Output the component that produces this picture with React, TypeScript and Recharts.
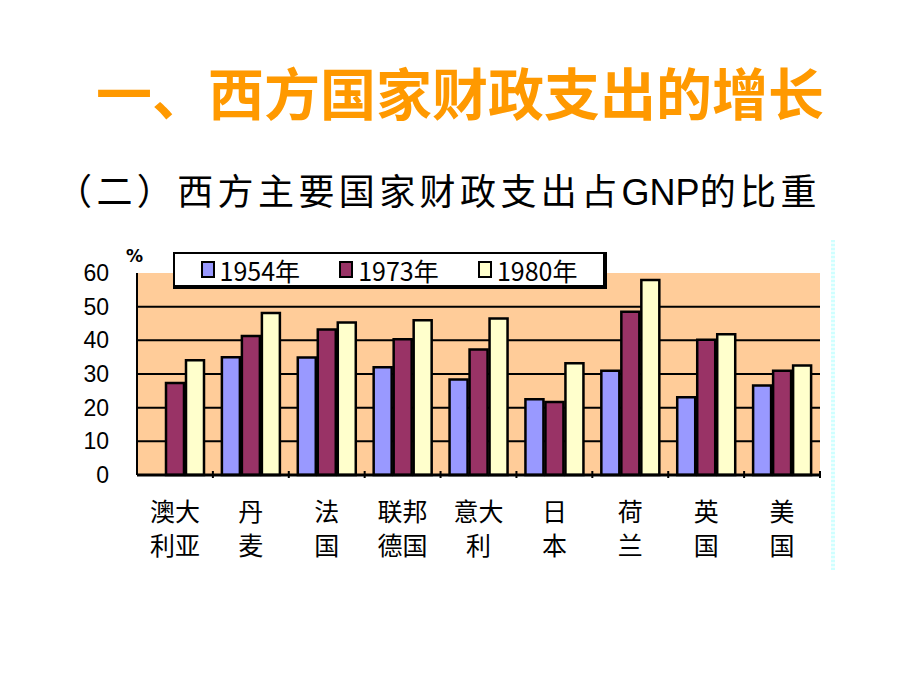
import { BarChart, Bar, XAxis, YAxis, CartesianGrid } from "recharts";

const categories = ["澳大利亚", "丹麦", "法国", "联邦德国", "意大利", "日本", "荷兰", "英国", "美国"];
const years = ["1954年", "1973年", "1980年"];
const v1954 = [null, 35.0, 34.9, 32.0, 28.4, 22.5, 31.0, 23.1, 26.6];
const v1973 = [27.3, 41.3, 43.2, 40.3, 37.3, 21.7, 48.5, 40.2, 31.0];
const v1980 = [34.1, 48.1, 45.3, 46.0, 46.5, 33.2, 57.9, 41.8, 32.5];
const yTicks = [0, 10, 20, 30, 40, 50, 60];
const colors = ["#9999FF", "#993366", "#FFFFCC"];

const data = categories.map((name, i) => ({
  name,
  y1954: v1954[i],
  y1973: v1973[i],
  y1980: v1980[i],
}));

const cjk = '"Noto Sans CJK SC", "Noto Sans", sans-serif';
const PLOT_LEFT = 137;
const PLOT_RIGHT = 820;
const halfBand = (PLOT_RIGHT - PLOT_LEFT) / categories.length / 2;

function CategoryTick(props: any) {
  const { x, y, payload } = props;
  const label: string = payload.value;
  const cut = Math.ceil(label.length / 2);
  return (
    <g>
      <line x1={x + halfBand} x2={x + halfBand} y1={y - 12} y2={y - 5} stroke="#000" strokeWidth={2} />
      <text x={x} y={y + 38} textAnchor="middle" fontSize={25} fontFamily={cjk} fill="#000">
        {label.slice(0, cut)}
      </text>
      <text x={x} y={y + 72} textAnchor="middle" fontSize={25} fontFamily={cjk} fill="#000">
        {label.slice(cut)}
      </text>
    </g>
  );
}

export default function App() {
  return (
    <div style={{ position: "absolute", left: 0, top: 0, width: 920, height: 690, background: "#fff" }}>
      <div
        style={{
          position: "absolute", left: 0, top: 58, width: 920, textAlign: "center",
          fontFamily: cjk, fontWeight: 700, fontSize: 56, color: "#FF9900", lineHeight: "66px",
        }}
      >
        一、西方国家财政支出的增长
      </div>
      <div
        style={{
          position: "absolute", left: 56, top: 166, whiteSpace: "nowrap",
          fontFamily: cjk, fontSize: 36, letterSpacing: 4.4, color: "#000", lineHeight: "46px",
        }}
      >
        （二）西方主要国家财政支出占<span style={{ fontFamily: '"Liberation Sans", Arial, sans-serif', letterSpacing: 0 }}>GNP</span>的比重
      </div>
      <div
        style={{
          position: "absolute", left: 831, top: 240, width: 4, height: 330,
          background: "repeating-linear-gradient(0deg, #CFFFFF 0 2px, #EFFFFF 2px 4px)",
        }}
      />
      <div
        style={{
          position: "absolute", left: 126, top: 246, fontSize: 17,
          fontFamily: '"DejaVu Sans", sans-serif', fontWeight: 700, color: "#000",
        }}
      >
        %
      </div>
      <BarChart
        width={920}
        height={690}
        data={data}
        margin={{ top: 273, right: 100, bottom: 115, left: 77 }}
        barSize={18}
        barGap={2}
        style={{ position: "absolute", left: 0, top: 0 }}
      >
        <CartesianGrid
          vertical={false}
          horizontalValues={[10, 20, 30, 40, 50]}
          stroke="#000"
          strokeWidth={2}
          fill="#FFCC99"
          fillOpacity={1}
        />
        <XAxis
          dataKey="name"
          interval={0}
          axisLine={{ stroke: "#000", strokeWidth: 3 }}
          tickLine={false}
          tick={<CategoryTick />}
          height={100}
        />
        <XAxis xAxisId="top" orientation="top" dataKey="name" height={0} tick={false} tickLine={false} axisLine={{ stroke: "#888", strokeWidth: 2 }} />
        <YAxis
          domain={[0, 60]}
          ticks={yTicks}
          interval={0}
          width={60}
          axisLine={{ stroke: "#000", strokeWidth: 2 }}
          tickLine={false}
          tickMargin={22}
          tick={{ fill: "#000", fontSize: 23, fontFamily: '"Liberation Sans", Arial, sans-serif' }}
        />
        <YAxis yAxisId="r" orientation="right" domain={[0, 60]} width={0} tick={false} tickLine={false} axisLine={{ stroke: "#888", strokeWidth: 2 }} />
        <Bar dataKey="y1954" fill={colors[0]} stroke="#000" strokeWidth={2.5} isAnimationActive={false} />
        <Bar dataKey="y1973" fill={colors[1]} stroke="#000" strokeWidth={2.5} isAnimationActive={false} />
        <Bar dataKey="y1980" fill={colors[2]} stroke="#000" strokeWidth={2.5} isAnimationActive={false} />
      </BarChart>
      <div
        style={{
          position: "absolute", left: 173, top: 252, width: 416, height: 31,
          background: "#fff", border: "2px solid #000", borderRightWidth: 4, borderBottomWidth: 4,
          display: "flex", alignItems: "center", justifyContent: "space-around", padding: "0 6px",
          boxSizing: "content-box",
        }}
      >
        {years.map((y, i) => (
          <div key={y} style={{ display: "flex", alignItems: "center" }}>
            <span
              style={{
                display: "inline-block", width: 10, height: 13, background: colors[i],
                border: "2px solid #000", marginRight: 5,
              }}
            />
            <span style={{ fontFamily: cjk, fontSize: 25, color: "#000", lineHeight: "30px" }}>{y}</span>
          </div>
        ))}
      </div>
    </div>
  );
}
